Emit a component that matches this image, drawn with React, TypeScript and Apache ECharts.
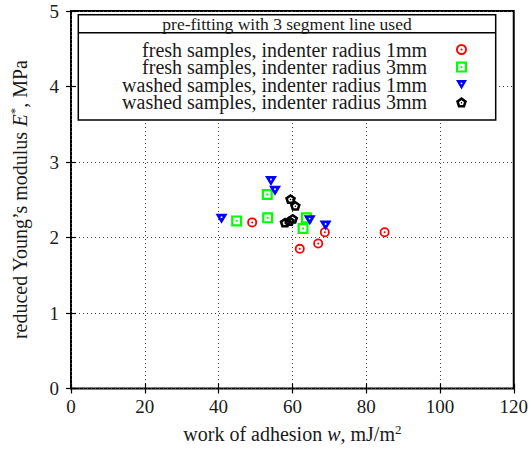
import React, { useEffect, useRef } from "react";
import * as echarts from "echarts";

const FONT = '"Liberation Serif", "DejaVu Serif", serif';

const seriesNames = [
  "fresh samples, indenter radius 1mm",
  "fresh samples, indenter radius 3mm",
  "washed samples, indenter radius 1mm",
  "washed samples, indenter radius 3mm",
];

const fresh1mm = [[49.1, 2.2], [62.0, 1.85], [67.0, 1.92], [68.8, 2.07], [85.0, 2.07]];
const fresh3mm = [[44.9, 2.22], [53.2, 2.57], [53.3, 2.26], [63.8, 2.26], [62.9, 2.12]];
const washed1mm = [[40.8, 2.25], [54.2, 2.75], [55.3, 2.62], [64.7, 2.23], [69.0, 2.16]];
const washed3mm = [[59.5, 2.51], [60.8, 2.42], [58.0, 2.2], [59.2, 2.22], [60.1, 2.25]];

const xRange = [0, 120, 20];
const yRange = [0, 5, 1];

const legendTitle = "pre-fitting with 3 segment line used";

const SYM_CIRCLE =
  "path://M10,0A10,10,0,1,1,10,20A10,10,0,1,1,10,0ZM10,3.6A6.4,6.4,0,1,0,10,16.4A6.4,6.4,0,1,0,10,3.6ZM10,8A2,2,0,1,1,10,12A2,2,0,1,1,10,8Z";
const SYM_SQUARE =
  "path://M0,0L20,0L20,20L0,20ZM4,4L4,16L16,16L16,4ZM8.3,8.3L11.7,8.3L11.7,11.7L8.3,11.7Z";
const SYM_TRI =
  "path://M0,0L20,0L10,17ZM10,4.4A1.6,1.6,0,1,0,10,7.6A1.6,1.6,0,1,0,10,4.4Z";
const SYM_PENT =
  "path://M10,0L19.51,6.91L15.88,18.09L4.12,18.09L0.49,6.91ZM10,5.5L5.72,8.61L7.35,13.64L12.65,13.64L14.28,8.61ZM10,8.6A1.4,1.4,0,1,1,10,11.4A1.4,1.4,0,1,1,10,8.6Z";

const TXT = "#1a1a1a";

export default function App() {
  const ref = useRef<HTMLDivElement>(null);
  useEffect(() => {
    if (!ref.current) return;
    const chart = echarts.init(ref.current, null, { renderer: "svg" });
    const tick = { inside: true, length: 5, lineStyle: { color: "#000", width: 1.2 } };
    const split = { show: true, lineStyle: { type: [1, 3] as any, color: "#444", width: 1 } };
    const label = { fontSize: 19, color: TXT, fontFamily: FONT };
    const option: any = {
      animation: false,
      textStyle: { fontFamily: FONT },
      grid: {
        left: 67.5,
        right: 15.3,
        top: 11,
        bottom: 61.5,
        show: true,
        borderColor: "#000",
        borderWidth: 2,
        backgroundColor: "transparent",
      },
      xAxis: [
        {
          type: "value",
          min: xRange[0],
          max: xRange[1],
          interval: xRange[2],
          position: "bottom",
          axisLine: { show: false },
          axisTick: tick,
          axisLabel: { ...label, margin: 8 },
          splitLine: split,
          name: "work of adhesion {i|w}, mJ/m{s|2}",
          nameLocation: "middle",
          nameGap: 34,
          nameTextStyle: {
            fontSize: 20,
            color: TXT,
            fontFamily: FONT,
            rich: {
              i: { fontSize: 20, fontStyle: "italic", color: TXT, fontFamily: FONT },
              s: { fontSize: 13, color: TXT, fontFamily: FONT, verticalAlign: "top", lineHeight: 23 },
            },
          },
        },
        {
          type: "value",
          min: xRange[0],
          max: xRange[1],
          interval: xRange[2],
          position: "top",
          axisLine: { show: false },
          axisTick: tick,
          axisLabel: { show: false },
          splitLine: { show: false },
        },
      ],
      yAxis: [
        {
          type: "value",
          min: yRange[0],
          max: yRange[1],
          interval: yRange[2],
          position: "left",
          axisLine: { show: false },
          axisTick: tick,
          axisLabel: { ...label, margin: 12 },
          splitLine: split,
          name: "reduced Young’s modulus {i|E}{s|*}, MPa",
          nameLocation: "middle",
          nameGap: 40,
          nameTextStyle: {
            fontSize: 20,
            color: TXT,
            fontFamily: FONT,
            rich: {
              i: { fontSize: 20, fontStyle: "italic", color: TXT, fontFamily: FONT },
              s: { fontSize: 13, color: TXT, fontFamily: FONT, verticalAlign: "top", lineHeight: 23 },
            },
          },
        },
        {
          type: "value",
          min: yRange[0],
          max: yRange[1],
          interval: yRange[2],
          position: "right",
          axisLine: { show: false },
          axisTick: tick,
          axisLabel: { show: false },
          splitLine: { show: false },
        },
      ],
      legend: {
        orient: "vertical",
        right: 64,
        top: 39.5,
        align: "right",
        itemWidth: 11,
        itemHeight: 11,
        itemGap: -2.4,
        padding: 0,
        selectedMode: false,
        z: 5,
        textStyle: {
          fontSize: 20,
          fontFamily: FONT,
          color: TXT,
          lineHeight: 17.6,
          padding: [0, 24, 0, 0],
        },
        data: seriesNames,
      },
      graphic: [
        {
          type: "rect",
          z: 3,
          shape: { x: 78.3, y: 14.7, width: 417.4, height: 105.3 },
          style: { fill: "#fff", stroke: "#000", lineWidth: 1.5 },
        },
        {
          type: "line",
          z: 3,
          shape: { x1: 78.3, y1: 32.7, x2: 495.7, y2: 32.7 },
          style: { stroke: "#000", lineWidth: 1.5 },
        },
        {
          type: "text",
          z: 4,
          x: 287,
          y: 24,
          style: {
            text: legendTitle,
            fontSize: 17.5,
            fontFamily: FONT,
            fill: TXT,
            align: "center",
            verticalAlign: "middle",
          },
        },
      ],
      series: [
        { name: seriesNames[0], type: "scatter", data: fresh1mm, symbol: SYM_CIRCLE, symbolSize: 10, itemStyle: { color: "#ff0000", opacity: 1 } },
        { name: seriesNames[1], type: "scatter", data: fresh3mm, symbol: SYM_SQUARE, symbolSize: 11, itemStyle: { color: "#00ff00", opacity: 1 } },
        { name: seriesNames[2], type: "scatter", data: washed1mm, symbol: SYM_TRI, symbolSize: [12, 10], itemStyle: { color: "#0000ff", opacity: 1 } },
        { name: seriesNames[3], type: "scatter", data: washed3mm, symbol: SYM_PENT, symbolSize: [11, 10], itemStyle: { color: "#000000", opacity: 1 } },
      ],
    };
    chart.setOption(option);
    return () => chart.dispose();
  }, []);
  return (
    <div
      ref={ref}
      style={{ position: "absolute", left: 0, top: 0, width: 531, height: 450 }}
    />
  );
}
